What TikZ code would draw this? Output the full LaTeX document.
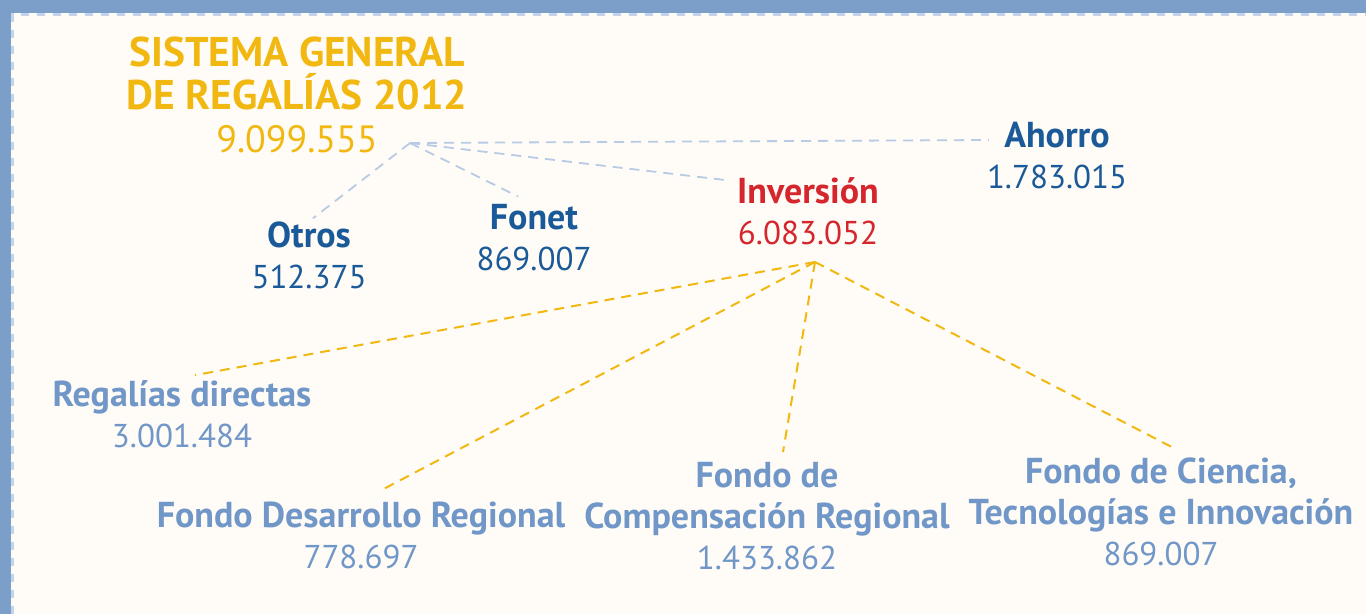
\documentclass[tikz,border=0pt]{standalone}
\usepackage{fontspec}
\setmainfont{PT Sans}
\usetikzlibrary{positioning}
\definecolor{bgcol}{HTML}{FFFCF7}
\definecolor{framecol}{HTML}{7B9FC9}
\definecolor{framedash}{HTML}{C5D3E8}
\definecolor{gold}{HTML}{F2B812}
\definecolor{navy}{HTML}{1B5A98}
\definecolor{rojo}{HTML}{D5262D}
\definecolor{steel}{HTML}{7097C7}
\definecolor{linkblue}{HTML}{B8CAE4}
\newcommand{\nm}[1]{{\fontsize{36}{41}\selectfont\bfseries #1}}
\newcommand{\tnm}[1]{{\fontsize{41.5}{43}\selectfont\bfseries #1}}

\begin{document}
\begin{tikzpicture}[x=1pt, y=-1pt,
    item/.style = {inner sep=0pt, align=center, font=\fontsize{33}{41}\selectfont},
    titlebox/.style = {inner sep=0pt, align=center, text=gold, font=\fontsize{38}{43}\selectfont},
    bluelink/.style = {draw=linkblue, line width=1.8pt, dash pattern=on 10pt off 7pt},
    goldlink/.style = {draw=gold, line width=2pt, dash pattern=on 10pt off 7pt}]
    % Frame
    \useasboundingbox (0,0) rectangle (1366,614);
    \fill[bgcol] (0,0) rectangle (1366,614);
    \fill[framecol] (0,0) rectangle (1366,13);
    \fill[framecol] (0,0) rectangle (11,614);
    \draw[framedash, line width=3pt, dash pattern=on 8pt off 8pt] (12.5,614) -- (12.5,14.5) -- (1366,14.5);

    % Nodes
    \node[titlebox] (sgr) at (297,95) {\tnm{SISTEMA GENERAL}\\\tnm{DE REGALÍAS 2012}\\9.099.555};
    \node[item, text=navy] (ahorro) at (1057,156) {\nm{Ahorro}\\1.783.015};
    \node[item, text=rojo] (inversion) at (808,211) {\nm{Inversión}\\6.083.052};
    \node[item, text=navy] (otros) at (309,255) {\nm{Otros}\\512.375};
    \node[item, text=navy] (fonet) at (534,238) {\nm{Fonet}\\869.007};
    \node[item, text=steel] (directas) at (182,414) {\nm{Regalías directas}\\3.001.484};
    \node[item, text=steel] (fdr) at (361,535) {\nm{Fondo Desarrollo Regional}\\778.697};
    \node[item, text=steel] (fcr) at (767,516) {\nm{Fondo de}\\\nm{Compensación Regional}\\1.433.862};
    \node[item, text=steel] (fcti) at (1161,512) {\nm{Fondo de Ciencia,}\\\nm{Tecnologías e Innovación}\\869.007};

    \coordinate (hubsgr) at (410,143);
    \coordinate (hubinv) at (815,262);

    % Edges
    \draw[bluelink] (hubsgr) -- ([shift={(4,-3)}]otros.north);
    \draw[bluelink] (hubsgr) -- ([shift={(-16,-8)}]fonet.north);
    \draw[bluelink] (hubsgr) -- ([shift={(-12,-31)}]inversion.west);
    \draw[bluelink] (hubsgr) -- ([shift={(2,-16)}]ahorro.west);
    \draw[goldlink] (hubinv) -- ([shift={(13,-5)}]directas.north);
    \draw[goldlink] (hubinv) -- ([shift={(22,-12)}]fdr.north);
    \draw[goldlink] (hubinv) -- ([shift={(16,-10)}]fcr.north);
    \draw[goldlink] (hubinv) -- ([shift={(16,-8)}]fcti.north);
\end{tikzpicture}
\end{document}
